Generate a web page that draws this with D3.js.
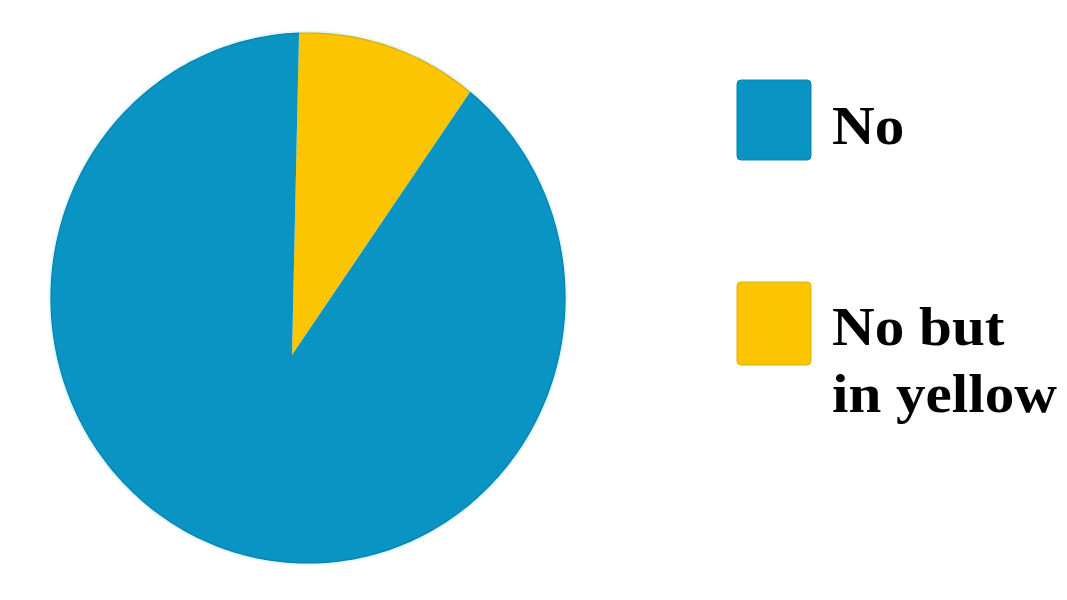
<!DOCTYPE html>
<html>
<head>
    <style>
        body {
            margin: 0;
            background-color: #ffffff;
        }

        .legend text {
            font-family: "Liberation Serif", "Times New Roman", serif;
            font-weight: bold;
            font-size: 55px;
            fill: #000;
        }
    </style>
</head>
<body>
    <div id="chart"></div>

    <script src="https://d3js.org/d3.v7.min.js"></script>
    <script>
        // data
        var categories = ["No", "No but in yellow"];
        var values = [88.6, 11.4];
        var colors = ["#0994c3", "#fcc502"];
        var legendLines = [["No"], ["No but", "in yellow"]];

        var width = 1067, height = 600;

        var svg = d3.select("#chart").append("svg")
            .attr("width", width)
            .attr("height", height);

        // the pie in the picture is a slightly squashed ellipse and its tip sits a bit low
        var cx = 308, cy = 298, rx = 257, ry = 265;
        var apex = [292, 355];
        var startAt = -0.035;

        var slices = categories.map(function(c, i) {
            return {name: c, value: values[i], color: colors[i]};
        });

        // yellow starts at 12 o'clock, blue takes the rest
        var pie = d3.pie()
            .value(function(d) { return d.value; })
            .sort(null)
            .startAngle(startAt)
            .endAngle(startAt + 2 * Math.PI);

        var arcs = pie(slices.slice().reverse());

        function onEdge(a) {
            return [cx + rx * Math.sin(a), cy - ry * Math.cos(a)];
        }

        function rim(d) {
            var n = Math.max(8, Math.ceil((d.endAngle - d.startAngle) * 60));
            return d3.range(n + 1).map(function(k) {
                return onEdge(d.startAngle + (d.endAngle - d.startAngle) * k / n);
            });
        }

        var line = d3.line();
        var g = svg.append("g");

        // faint light halo round the pie
        g.selectAll("path.halo")
            .data(arcs)
            .enter().append("path")
            .attr("class", "halo")
            .attr("d", function(d) { return line(rim(d)); })
            .attr("fill", "none")
            .attr("stroke", "#dff7fd")
            .attr("stroke-width", 5);

        g.selectAll("path.slice")
            .data(arcs)
            .enter().append("path")
            .attr("class", "slice")
            .attr("d", function(d) { return line([apex].concat(rim(d))) + "Z"; })
            .attr("fill", function(d) { return d.data.color; });

        // thin darker rim
        g.selectAll("path.rim")
            .data(arcs)
            .enter().append("path")
            .attr("class", "rim")
            .attr("d", function(d) { return line(rim(d)); })
            .attr("fill", "none")
            .attr("stroke", function(d) { return d3.color(d.data.color).darker(0.4); })
            .attr("stroke-width", 1.2);

        // legend
        var legendY = d3.scaleOrdinal()
            .domain(categories)
            .range([80, 282]);

        var legend = svg.append("g")
            .attr("class", "legend")
            .selectAll("g")
            .data(slices)
            .enter().append("g")
            .attr("transform", function(d) { return "translate(737," + legendY(d.name) + ")"; });

        legend.append("rect")
            .attr("width", 74)
            .attr("height", function(d, i) { return i ? 83 : 80; })
            .attr("rx", 4)
            .attr("fill", function(d) { return d.color; })
            .attr("stroke", function(d) { return d3.color(d.color).darker(0.3); })
            .attr("stroke-width", 1);

        legend.each(function(d, i) {
            var t = d3.select(this).append("text")
                .attr("transform", "translate(95," + (i ? 63 : 64) + ") scale(1.075,1)");
            t.selectAll("tspan")
                .data(legendLines[i])
                .enter().append("tspan")
                .attr("x", 0)
                .attr("y", function(s, j) { return j * 67; })
                .text(function(s) { return s; });
        });
    </script>
</body>
</html>
